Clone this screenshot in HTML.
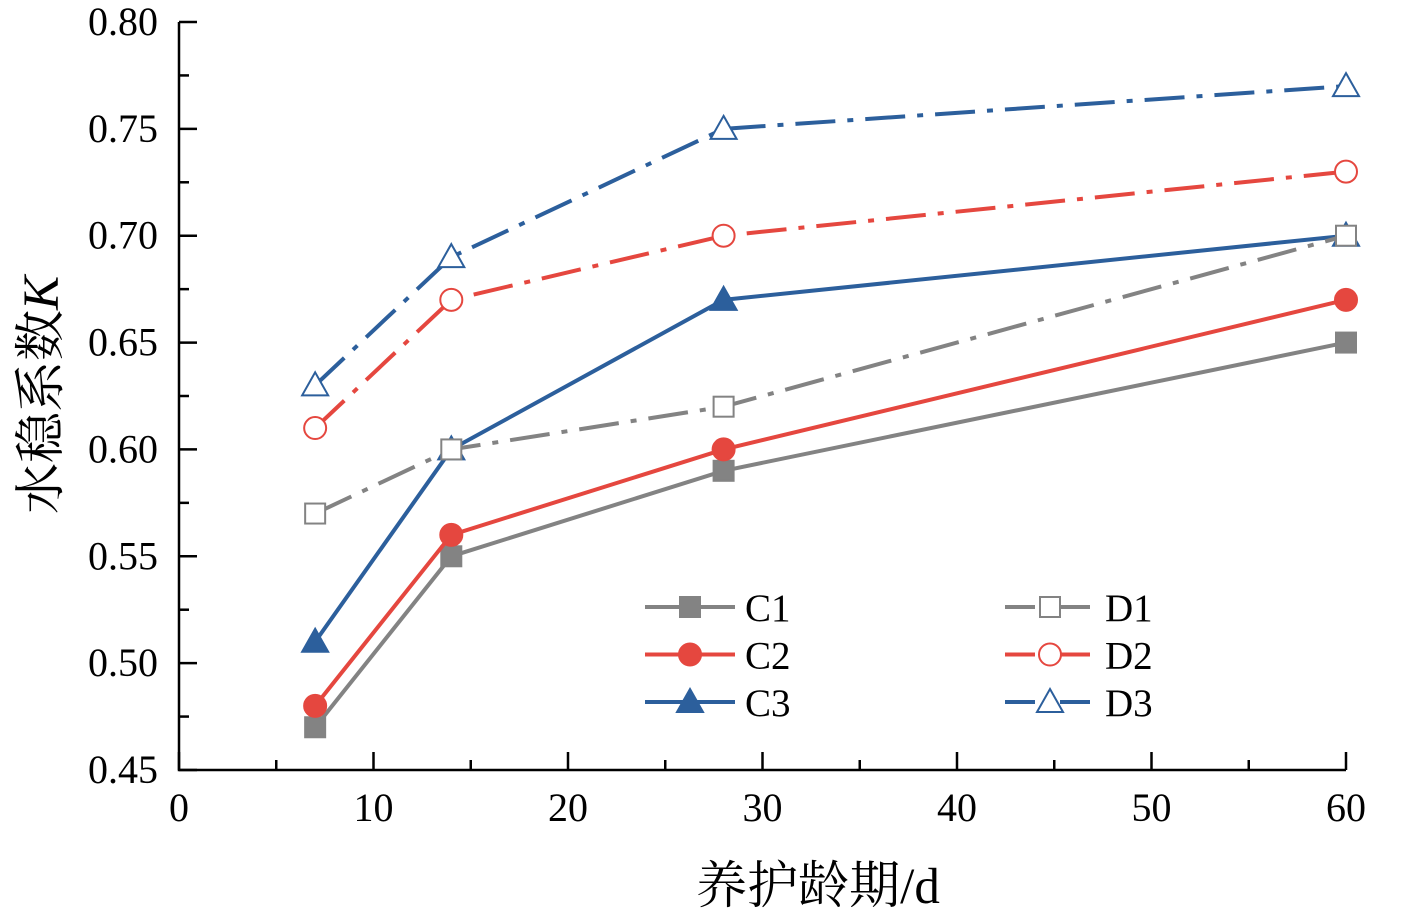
<!DOCTYPE html>
<html><head><meta charset="utf-8"><style>
body{margin:0;background:#fff}
svg{display:block;font-family:"Liberation Serif","Noto Serif CJK SC",serif}
</style></head><body>
<svg id="chart" width="1411" height="917" viewBox="0 0 1411 917" xmlns="http://www.w3.org/2000/svg"></svg>
<script>
const xValues=[7,14,28,60];
const seriesNames=["C1","C2","C3","D1","D2","D3"];
const c1=[0.47,0.55,0.59,0.65];
const c2=[0.48,0.56,0.60,0.67];
const c3=[0.51,0.60,0.67,0.70];
const d1=[0.57,0.60,0.62,0.70];
const d2=[0.61,0.67,0.70,0.73];
const d3=[0.63,0.69,0.75,0.77];
const yTicks=["0.45","0.50","0.55","0.60","0.65","0.70","0.75","0.80"];
const xTicks=["0","10","20","30","40","50","60"];

const NS="http://www.w3.org/2000/svg";
const svg=document.getElementById('chart');
const X0=179,X1=1346,Y0=770,Y1=22;
const sx=v=>X0+(v-0)/60*(X1-X0);
const sy=v=>Y0-(v-0.45)/0.35*(Y0-Y1);
function mk(tag,attrs,parent){const e=document.createElementNS(NS,tag);for(const k in attrs)e.setAttribute(k,attrs[k]);(parent||svg).appendChild(e);return e;}

let ax=mk('path',{d:`M${X0},${Y1} V${Y0} H${X1}`,stroke:'#000','stroke-width':2.5,fill:'none'});


for(let i=0;i<yTicks.length;i++){
  const v=parseFloat(yTicks[i]),y=sy(v);
  let t=mk('line',{x1:X0,x2:X0+18,y1:y,y2:y,stroke:'#000','stroke-width':2.5});
  
  
  if(i<yTicks.length-1){let m=mk('line',{x1:X0,x2:X0+10,y1:sy(v+0.025),y2:sy(v+0.025),stroke:'#000','stroke-width':2.5});
  
  }
  let l=mk('text',{x:X0-21,y:y+13,'text-anchor':'end','font-size':40});
  l.textContent=yTicks[i];
  
  
}
for(let i=0;i<xTicks.length;i++){
  const v=parseFloat(xTicks[i]),x=sx(v);
  let t=mk('line',{x1:x,x2:x,y1:Y0,y2:Y0-18,stroke:'#000','stroke-width':2.5});
  
  
  if(i<xTicks.length-1){let m=mk('line',{x1:sx(v+5),x2:sx(v+5),y1:Y0,y2:Y0-10,stroke:'#000','stroke-width':2.5});
  
  }
  let l=mk('text',{x:x,y:Y0+51,'text-anchor':'middle','font-size':40});
  l.textContent=xTicks[i];
  
  
}
let xt=mk('text',{x:818,y:903,'text-anchor':'middle','font-size':51});
xt.textContent='养护龄期/d';


let yt=mk('text',{x:0,y:0,'text-anchor':'middle','font-size':51,transform:'translate(58,395) rotate(-90)'});
yt.innerHTML='水稳系数<tspan font-style="italic">K</tspan>';



const gray='#838383',red='#e5473f',blue='#2c5f9c';
const dash='40 12 6 12';
const series=[
 {name:seriesNames[0],data:c1,color:gray,marker:'square',fill:true,dash:null},
 {name:seriesNames[1],data:c2,color:red,marker:'circle',fill:true,dash:null},
 {name:seriesNames[2],data:c3,color:blue,marker:'triangle',fill:true,dash:null},
 {name:seriesNames[3],data:d1,color:gray,marker:'square',fill:false,dash:dash},
 {name:seriesNames[4],data:d2,color:red,marker:'circle',fill:false,dash:dash},
 {name:seriesNames[5],data:d3,color:blue,marker:'triangle',fill:false,dash:dash}
];
function marker(s,x,y,g){
  const a={fill:s.fill?s.color:'#fff',stroke:s.color,'stroke-width':2};
  let e;
  if(s.marker==='square')e=mk('rect',Object.assign({x:x-10,y:y-10,width:20,height:20},a),g);
  else if(s.marker==='circle')e=mk('circle',Object.assign({cx:x,cy:y,r:11},a),g);
  else e=mk('polygon',Object.assign({points:`${x},${y-13} ${x+13},${y+10} ${x-13},${y+10}`},a),g);
  
  
}
series.forEach((s,si)=>{
  const g=mk('g',{});
  
  
  const pts=s.data.map((v,i)=>sx(xValues[i])+','+sy(v)).join(' ');
  const pl=mk('polyline',{points:pts,fill:'none',stroke:s.color,'stroke-width':4},g);
  if(s.dash)pl.setAttribute('stroke-dasharray',s.dash);
  
  
  s.data.forEach((v,i)=>marker(s,sx(xValues[i]),sy(v),g));
  const col=si<3?0:1,row=si%3;
  const lx=col?1005:645,ly=607+row*47.5;
  const lg=mk('g',{});
  
  
  const ll=mk('line',{x1:lx,x2:lx+90,y1:ly,y2:ly,stroke:s.color,'stroke-width':4},lg);
  if(s.dash)ll.setAttribute('stroke-dasharray','30 10 5 10');
  marker(s,lx+45,ly,lg);
  const tx=mk('text',{x:lx+100,y:ly+14,'font-size':39},lg);
  tx.textContent=s.name;
});
</script>
</body></html>
